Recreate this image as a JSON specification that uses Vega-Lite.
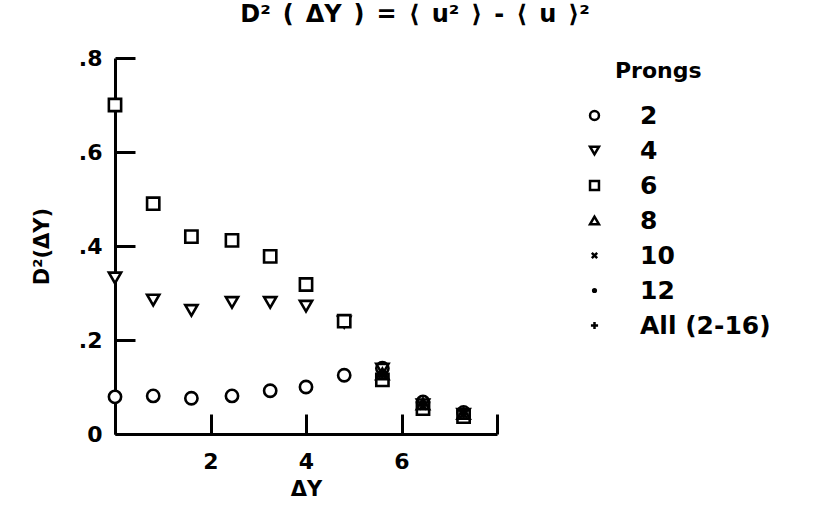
{
  "$schema": "https://vega.github.io/schema/vega-lite/v6.json",
  "autosize": "none",
  "padding": {"left": 115, "top": 58, "right": 323, "bottom": 73},
  "width": 382,
  "height": 376,
  "background": "white",
  "title": {
    "text": "D²\u2002(\u2002ΔY\u2002)\u2002=\u2002⟨\u2002u²\u2002⟩\u2002-\u2002⟨\u2002u\u2002⟩²",
    "fontSize": 24,
    "font": "DejaVu Sans",
    "fontWeight": "bold",
    "color": "black",
    "anchor": "middle",
    "dx": 109,
    "offset": 20
  },
  "data": {
    "values": [
      {"dy": 0, "d2": 0.079, "prongs": "2"},
      {"dy": 0.8, "d2": 0.081, "prongs": "2"},
      {"dy": 1.6, "d2": 0.076, "prongs": "2"},
      {"dy": 2.45, "d2": 0.081, "prongs": "2"},
      {"dy": 3.25, "d2": 0.092, "prongs": "2"},
      {"dy": 4.0, "d2": 0.1, "prongs": "2"},
      {"dy": 4.8, "d2": 0.125, "prongs": "2"},
      {"dy": 5.6, "d2": 0.14, "prongs": "2"},
      {"dy": 6.45, "d2": 0.068, "prongs": "2"},
      {"dy": 7.3, "d2": 0.046, "prongs": "2"},
      {"dy": 0, "d2": 0.332, "prongs": "4"},
      {"dy": 0.8, "d2": 0.285, "prongs": "4"},
      {"dy": 1.6, "d2": 0.263, "prongs": "4"},
      {"dy": 2.45, "d2": 0.28, "prongs": "4"},
      {"dy": 3.25, "d2": 0.28, "prongs": "4"},
      {"dy": 4.0, "d2": 0.272, "prongs": "4"},
      {"dy": 4.8, "d2": 0.238, "prongs": "4"},
      {"dy": 5.6, "d2": 0.138, "prongs": "4"},
      {"dy": 6.45, "d2": 0.062, "prongs": "4"},
      {"dy": 7.3, "d2": 0.042, "prongs": "4"},
      {"dy": 0, "d2": 0.7, "prongs": "6"},
      {"dy": 0.8, "d2": 0.49, "prongs": "6"},
      {"dy": 1.6, "d2": 0.42, "prongs": "6"},
      {"dy": 2.45, "d2": 0.412, "prongs": "6"},
      {"dy": 3.25, "d2": 0.378, "prongs": "6"},
      {"dy": 4.0, "d2": 0.318, "prongs": "6"},
      {"dy": 4.8, "d2": 0.24, "prongs": "6"},
      {"dy": 5.6, "d2": 0.115, "prongs": "6"},
      {"dy": 6.45, "d2": 0.054, "prongs": "6"},
      {"dy": 7.3, "d2": 0.037, "prongs": "6"},
      {"dy": 5.6, "d2": 0.128, "prongs": "8"},
      {"dy": 6.45, "d2": 0.064, "prongs": "8"},
      {"dy": 7.3, "d2": 0.044, "prongs": "8"},
      {"dy": 5.6, "d2": 0.127, "prongs": "10"},
      {"dy": 6.45, "d2": 0.06, "prongs": "10"},
      {"dy": 7.3, "d2": 0.042, "prongs": "10"},
      {"dy": 5.6, "d2": 0.126, "prongs": "12"},
      {"dy": 6.45, "d2": 0.061, "prongs": "12"},
      {"dy": 7.3, "d2": 0.043, "prongs": "12"},
      {"dy": 5.6, "d2": 0.127, "prongs": "All (2-16)"},
      {"dy": 6.45, "d2": 0.062, "prongs": "All (2-16)"},
      {"dy": 7.3, "d2": 0.043, "prongs": "All (2-16)"}
    ]
  },
  "mark": {"type": "point", "filled": false, "fill": "white", "fillOpacity": 1, "strokeWidth": 2.6, "size": 150, "opacity": 1},
  "encoding": {
    "x": {
      "field": "dy",
      "type": "quantitative",
      "scale": {"domain": [0, 8], "nice": false, "zero": false},
      "axis": {
        "title": "ΔY",
        "values": [0, 2, 4, 6, 8],
        "labelExpr": "datum.value == 0 || datum.value == 8 ? '' : datum.label",
        "labelPadding": 37,
        "titlePadding": 6
      }
    },
    "y": {
      "field": "d2",
      "type": "quantitative",
      "scale": {"domain": [0, 0.8], "nice": false, "zero": false},
      "axis": {
        "title": "D²(ΔY)",
        "values": [0, 0.2, 0.4, 0.6, 0.8],
        "labelExpr": "datum.value == 0 ? '0' : replace(format(datum.value, '.1f'), '0.', '.')",
        "labelPadding": 33,
        "titlePadding": 26
      }
    },
    "shape": {
      "field": "prongs",
      "type": "nominal",
      "scale": {
        "domain": ["2", "4", "6", "8", "10", "12", "All (2-16)"],
        "range": [
          "circle",
          "triangle-down",
          "square",
          "triangle-up",
          "M-0.6,-0.6L0.6,0.6M-0.6,0.6L0.6,-0.6",
          "M0,-0.3A0.3,0.3 0 1,1 0,0.3A0.3,0.3 0 1,1 0,-0.3Z",
          "M-0.8,0L0.8,0M0,-0.8L0,0.8"
        ]
      },
      "legend": {
        "title": "Prongs",
        "orient": "none",
        "legendX": 500,
        "legendY": 3,
        "symbolOffset": -33,
        "labelOffset": 33
      }
    },
    "stroke": {
      "field": "prongs",
      "type": "nominal",
      "scale": {
        "domain": ["2", "4", "6", "8", "10", "12", "All (2-16)"],
        "range": ["black", "black", "black", "black", "black", "black", "black"]
      },
      "legend": {
        "title": "Prongs",
        "orient": "none",
        "legendX": 500,
        "legendY": 3,
        "symbolOffset": -33,
        "labelOffset": 33
      }
    }
  },
  "config": {
    "font": "DejaVu Sans",
    "view": {"stroke": null},
    "axis": {
      "grid": false,
      "domainColor": "black",
      "domainWidth": 3,
      "tickColor": "black",
      "tickWidth": 3,
      "tickSize": -20,
      "labelFontSize": 22,
      "labelFontWeight": "bold",
      "labelColor": "black",
      "labelFont": "DejaVu Sans",
      "titleFontSize": 21,
      "titleFont": "DejaVu Sans",
      "titleFontWeight": "bold",
      "titleColor": "black"
    },
    "legend": {
      "titleFontSize": 22,
      "titleFontWeight": "bold",
      "titleColor": "black",
      "titleFont": "DejaVu Sans",
      "titlePadding": 20,
      "labelFontSize": 25,
      "labelFontWeight": "bold",
      "labelColor": "black",
      "labelFont": "DejaVu Sans",
      "rowPadding": 9,
      "symbolSize": 80,
      "symbolStrokeWidth": 2.5,
      "symbolStrokeColor": "black",
      "symbolFillColor": "white"
    }
  }
}
